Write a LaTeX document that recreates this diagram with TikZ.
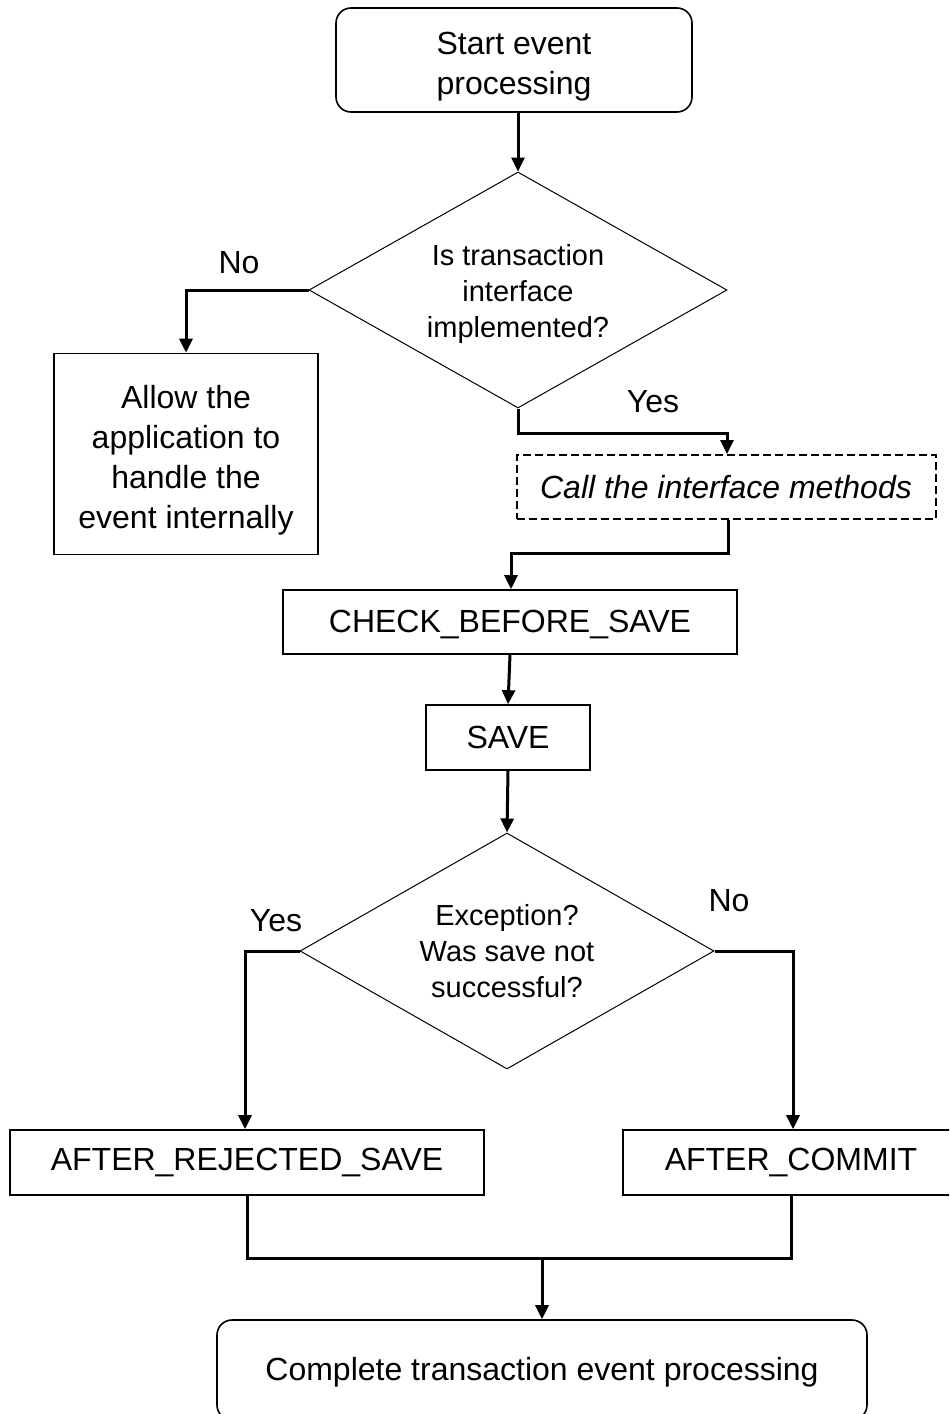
\documentclass[tikz,border=0pt]{standalone}
\usepackage{fontspec}
\setmainfont{Liberation Sans}
\usetikzlibrary{shapes.geometric,arrows.meta}

% a strut on the first line lowers multi-line text a little inside its frame
\newcommand{\firstline}[1]{\rule{0pt}{#1}}

\tikzset{
  box/.style={draw, line width=0.8pt, inner sep=0pt, align=center,
    font=\fontsize{16pt}{20pt}\selectfont},
  roundbox/.style={box, rounded corners=7.5pt},
  dashbox/.style={box, line width=1pt, dash pattern=on 4pt off 2pt},
  decision/.style={draw, diamond, aspect=1.77, line width=0.5pt, inner sep=0pt,
    align=center, font=\fontsize{14.5pt}{18pt}\selectfont},
  flow/.style={line width=1.5pt},
  flowarrow/.style={flow, -{Triangle[length=7pt,width=6.5pt]}},
  answer/.style={font=\fontsize{16pt}{20pt}\selectfont, inner sep=0pt}
}

\begin{document}
\begin{tikzpicture}[x=0.5pt, y=-0.5pt]
  \clip (0,0) rectangle (949,1414);
  \fill[white] (0,0) rectangle (949,1414);

  % process steps
  \node[roundbox, minimum width=178pt, minimum height=52pt] (start) at (514,60)
    {\firstline{17.6pt}Start event\\processing};
  \node[decision, minimum width=209pt, minimum height=118pt] (iface) at (518,290)
    {\firstline{14.6pt}Is transaction\\interface\\implemented?};
  \node[box, minimum width=132pt, minimum height=100.5pt] (allow) at (186,454)
    {\firstline{17.4pt}Allow the\\application to\\handle the\\event internally};
  \node[dashbox, minimum width=209.5pt, minimum height=32pt] (call) at (726,487)
    {\itshape Call the interface methods};
  \node[box, minimum width=227pt, minimum height=32pt] (check) at (510,622)
    {\firstline{13.5pt}CHECK\_BEFORE\_SAVE};
  \node[box, minimum width=82pt, minimum height=32.5pt] (save) at (508,737.5)
    {SAVE};
  \node[decision, minimum width=207pt, minimum height=118pt] (exc) at (507,951)
    {Exception?\\Was save not\\successful?};
  \node[box, minimum width=237pt, minimum height=32.5pt] (rejected) at (247,1162.5)
    {AFTER\_REJECTED\_SAVE};
  \node[box, minimum width=168pt, minimum height=32.5pt] (commit) at (791,1162.5)
    {AFTER\_COMMIT};
  \node[roundbox, minimum width=325pt, minimum height=50pt] (complete) at (542,1370)
    {\firstline{13.5pt}Complete transaction event processing};

  % branch labels
  \node[answer] (noA) at (239,263) {No};
  \node[answer] (yesA) at (653,402) {Yes};
  \node[answer] (yesB) at (276,921) {Yes};
  \node[answer] (noB) at (729,901) {No};

  % connectors
  \coordinate (merge) at (542,1258);
  \draw[flowarrow] (start.south -| iface.north) -- (iface.north);
  \draw[flowarrow] (iface.west) -| (allow.north);
  \draw[flowarrow] (iface.south) -- ++(0,25) -| ([xshift=0.5pt]call.north);
  \draw[flowarrow] ([xshift=1pt]call.south) -- ++(0,33) -| ([xshift=0.5pt]check.north);
  \draw[flowarrow] (check.south) -- (save.north);
  \draw[flowarrow] (save.south) -- (exc.north);
  \draw[flowarrow] (exc.west) -| ([xshift=-1pt]rejected.north);
  \draw[flowarrow] (exc.east) -| ([xshift=1pt]commit.north);
  \draw[flow] (rejected.south) |- (merge) -| (commit.south);
  \draw[flowarrow] (merge) -- (complete.north);
\end{tikzpicture}
\end{document}
